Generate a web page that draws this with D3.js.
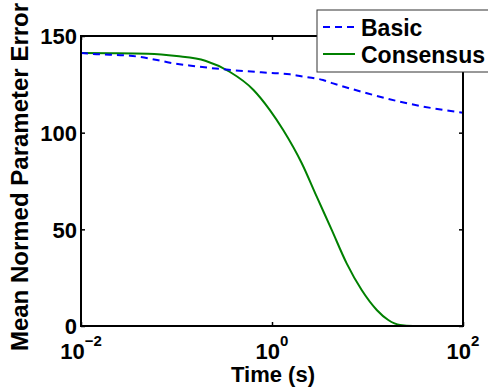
<!DOCTYPE html>
<html><head><meta charset="utf-8">
<script src="https://cdn.jsdelivr.net/npm/d3@7"></script>
<style>
html,body{margin:0;padding:0;background:#fff;overflow:hidden;}
text{font-family:"Liberation Sans",Arial,Helvetica,sans-serif;font-weight:bold;fill:#000;}
</style></head>
<body><svg id="c" width="488" height="392"></svg>
<script>
// ---- data ----
const basicTime  = [0.01, 0.0134, 0.0326, 0.0625, 0.0855, 0.149, 0.307, 0.887, 1.54, 1.96, 3.42, 4.36, 9.89, 21.9, 48.5, 100];
const basicError = [141.2, 140.7, 139.8, 137.6, 136.2, 134.5, 132.8, 131.0, 130.2, 129.3, 127.2, 125.5, 120.4, 116.0, 112.6, 110.3];
const consTime  = [0.01, 0.02, 0.05, 0.1, 0.2, 0.36, 0.64, 0.95, 1.31, 2.05, 2.94, 4.22, 6.05, 8.69, 12.5, 16.5, 21.9, 30, 100];
const consError = [141.2, 141.1, 140.8, 139.6, 137.2, 131.5, 122.1, 111.7, 101.4, 84.2, 66.9, 49.7, 32.4, 18.6, 8.3, 3.1, 0.5, 0.05, 0];
const seriesNames = ["Basic", "Consensus"];
const xTickExp = [-2, 0, 2];
const yTicks = [0, 50, 100, 150];
const xLabel = "Time (s)";
const yLabel = "Mean Normed Parameter Error";

// ---- layout ----
const svg = d3.select("#c");
const L = 81, R = 463, T = 36, B = 326;
const x = d3.scaleLog().domain([0.01, 100]).range([L, R]);
const y = d3.scaleLinear().domain([0, 150]).range([B, T]);

const line = d3.line().x(d => x(d[0])).y(d => y(d[1])).curve(d3.curveMonotoneX);

svg.append("clipPath").attr("id","clip").append("rect")
  .attr("x", L).attr("y", T).attr("width", R-L).attr("height", B-T);

const g = svg.append("g").attr("clip-path","url(#clip)");
g.append("path").datum(d3.zip(consTime, consError))
  .attr("d", line).attr("fill","none").attr("stroke","#008000").attr("stroke-width",2);
g.append("path").datum(d3.zip(basicTime, basicError))
  .attr("d", line).attr("fill","none").attr("stroke","#0000ff").attr("stroke-width",2)
  .attr("stroke-dasharray","7,5");

const tickVals = xTickExp.map(e => Math.pow(10, e));
function styleAxis(sel){
  sel.select(".domain").remove();
  sel.selectAll(".tick line").attr("stroke","#000").attr("stroke-width",1.5);
}
const yl = svg.append("g").attr("transform",`translate(${L},0)`)
  .call(d3.axisLeft(y).tickValues(yTicks).tickSize(-4).tickPadding(4));
styleAxis(yl);
yl.selectAll(".tick text").style("font-size","22px").style("font-family",null).attr("dy","0.36em");
const yr = svg.append("g").attr("transform",`translate(${R},0)`)
  .call(d3.axisRight(y).tickValues(yTicks).tickSize(-4).tickFormat(""));
styleAxis(yr);
const xb = svg.append("g").attr("transform",`translate(0,${B})`)
  .call(d3.axisBottom(x).tickValues(tickVals).tickSize(-4).tickFormat(""));
styleAxis(xb);
const xt = svg.append("g").attr("transform",`translate(0,${T})`)
  .call(d3.axisTop(x).tickValues(tickVals).tickSize(-4).tickFormat(""));
styleAxis(xt);

xTickExp.forEach(e => {
  const t = svg.append("text").attr("x", x(Math.pow(10,e))).attr("y", 359)
    .attr("text-anchor","middle").style("font-size","22px");
  t.append("tspan").text("10");
  t.append("tspan").attr("dy", -13).style("font-size","15px").text(e < 0 ? "\u2212" + (-e) : String(e));
});

svg.append("rect").attr("x", L).attr("y", T).attr("width", R-L).attr("height", B-T)
  .attr("fill","none").attr("stroke","#000").attr("stroke-width",2);

svg.append("text").attr("x", 273).attr("y", 382).attr("text-anchor","middle")
  .style("font-size","22px").text(xLabel);
svg.append("text").attr("transform","translate(28,177) rotate(-90)").attr("text-anchor","middle")
  .style("font-size","24px").text(yLabel);

const lg = svg.append("g");
lg.append("rect").attr("x", 317).attr("y", 10).attr("width", 200).attr("height", 62)
  .attr("fill","#fff").attr("stroke","#333").attr("stroke-width",1);
const legY = [27, 54];
const legStyles = [{c:"#0000ff", d:"7,5"}, {c:"#008000", d:null}];
seriesNames.forEach((n, i) => {
  lg.append("line").attr("x1", 323).attr("x2", 355).attr("y1", legY[i]).attr("y2", legY[i])
    .attr("stroke", legStyles[i].c).attr("stroke-width", 2)
    .attr("stroke-dasharray", legStyles[i].d);
  lg.append("text").attr("x", 361).attr("y", legY[i] + 8.5).style("font-size","23px").text(n);
});
</script></body></html>
